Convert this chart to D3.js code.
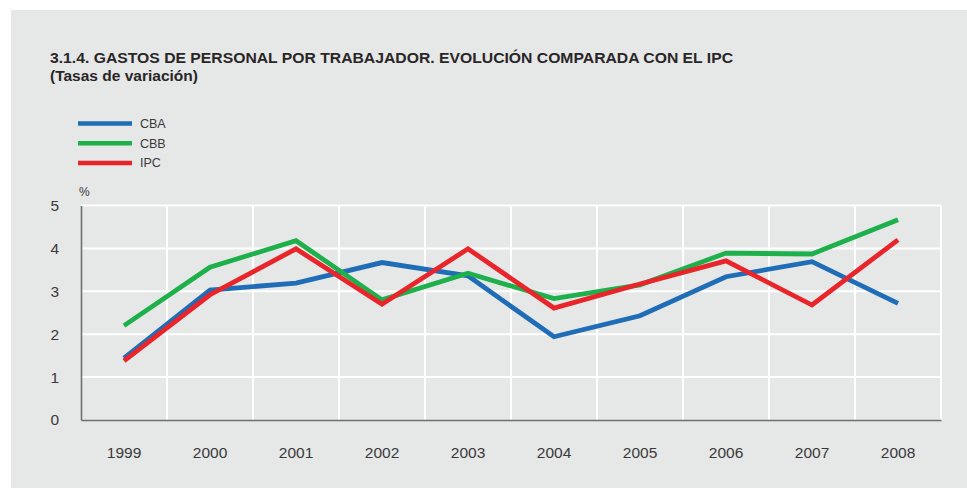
<!DOCTYPE html>
<html>
<head>
<meta charset="utf-8">
<script src="https://cdn.jsdelivr.net/npm/d3@7"></script>
<style>
  html, body { margin: 0; padding: 0; background: #ffffff; }
  svg { display: block; }
  text { font-family: "Liberation Sans", Arial, Helvetica, sans-serif; }
</style>
</head>
<body>
<svg id="chart" width="967" height="489"></svg>
<script>
const years = ["1999","2000","2001","2002","2003","2004","2005","2006","2007","2008"];
const cba = [1.44, 3.03, 3.19, 3.67, 3.36, 1.94, 2.43, 3.34, 3.69, 2.72];
const cbb = [2.20, 3.56, 4.18, 2.80, 3.42, 2.83, 3.15, 3.89, 3.87, 4.67];
const ipc = [1.38, 2.92, 3.99, 2.70, 3.99, 2.61, 3.17, 3.71, 2.68, 4.20];
const yTicks = [0, 1, 2, 3, 4, 5];
const seriesNames = ["CBA", "CBB", "IPC"];
const seriesColors = ["#1f6db6", "#1eb04b", "#e8252b"];
const title = "3.1.4. GASTOS DE PERSONAL POR TRABAJADOR. EVOLUCIÓN COMPARADA CON EL IPC";
const subtitle = "(Tasas de variación)";

const series = [cba, cbb, ipc].map((vals, i) => ({
  name: seriesNames[i], color: seriesColors[i],
  values: vals.map((v, j) => ({ year: years[j], value: v }))
}));

const svg = d3.select("#chart");

// panel background
svg.append("rect").attr("x", 11).attr("y", 10).attr("width", 956).attr("height", 478).attr("fill", "#e6e7e7");

// title
svg.append("text").attr("x", 50).attr("y", 62.5)
  .attr("font-size", 14.5).attr("font-weight", "bold").attr("fill", "#2a2627")
  .attr("textLength", 683).attr("lengthAdjust", "spacingAndGlyphs")
  .text(title);
svg.append("text").attr("x", 50).attr("y", 80.5)
  .attr("font-size", 14.5).attr("font-weight", "bold").attr("fill", "#2a2627")
  .attr("textLength", 148).attr("lengthAdjust", "spacingAndGlyphs")
  .text(subtitle);

// legend
const legend = svg.append("g");
series.forEach((s, i) => {
  const y = 123.5 + i * 19.7;
  legend.append("line").attr("x1", 78).attr("x2", 132).attr("y1", y).attr("y2", y)
    .attr("stroke", s.color).attr("stroke-width", 4.5);
  legend.append("text").attr("x", 140).attr("y", y + 4.5)
    .attr("font-size", 12.5).attr("fill", "#3a3a3a").text(s.name);
});

// scales
const x0 = 81, x1 = 941, yTop = 205.5, yBot = 420;
const x = d3.scaleBand().domain(years).range([x0, x1]).padding(0);
const y = d3.scaleLinear().domain([0, 5]).range([yBot, yTop]);

// % label
svg.append("text").attr("x", 79).attr("y", 196).attr("font-size", 12).attr("fill", "#3a3a3a").text("%");

// grid
const grid = svg.append("g");
grid.selectAll("line.h").data(yTicks.filter(d => d > 0)).join("line")
  .attr("x1", x0).attr("x2", x1).attr("y1", d => y(d)).attr("y2", d => y(d))
  .attr("stroke", "#ffffff").attr("stroke-width", 2);
grid.selectAll("line.v").data(years).join("line")
  .attr("x1", d => x(d) + x.bandwidth()).attr("x2", d => x(d) + x.bandwidth())
  .attr("y1", yTop).attr("y2", yBot)
  .attr("stroke", "#ffffff").attr("stroke-width", 2);

// axes
const yAxis = svg.append("g").attr("transform", `translate(${x0},0)`)
  .call(d3.axisLeft(y).tickValues(yTicks).tickSize(0).tickPadding(22).tickFormat(d3.format("d")));
yAxis.select(".domain").attr("stroke", "#6f6f6f").attr("stroke-width", 1.6);
yAxis.selectAll("text").attr("font-size", 15.5).attr("fill", "#3a3a3a")
  .attr("font-family", '"Liberation Sans", Arial, sans-serif');

const xAxis = svg.append("g").attr("transform", `translate(0,${yBot})`)
  .call(d3.axisBottom(x).tickSize(0).tickPadding(27));
xAxis.select(".domain").attr("stroke", "#6f6f6f").attr("stroke-width", 1.6);
xAxis.selectAll("text").attr("font-size", 15.5).attr("fill", "#3a3a3a")
  .attr("font-family", '"Liberation Sans", Arial, sans-serif');

// lines
const line = d3.line().x(d => x(d.year) + x.bandwidth() / 2).y(d => y(d.value));
svg.append("g").selectAll("path").data(series).join("path")
  .attr("d", d => line(d.values))
  .attr("fill", "none").attr("stroke", d => d.color)
  .attr("stroke-width", 4.8).attr("stroke-linejoin", "miter");
</script>
</body>
</html>
